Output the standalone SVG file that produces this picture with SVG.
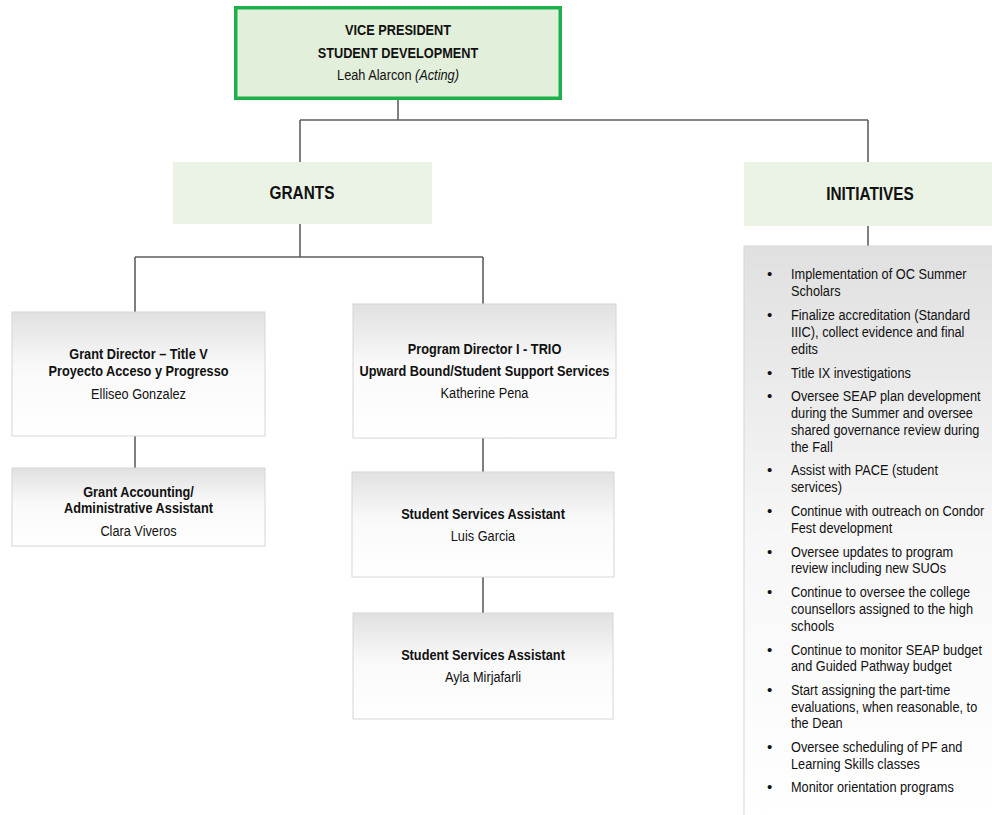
<svg xmlns="http://www.w3.org/2000/svg" width="992" height="815" viewBox="0 0 992 815">
  <defs>
    <linearGradient id="boxFill" x1="0" y1="0" x2="0" y2="1">
      <stop offset="0" stop-color="#e1e1e1"/>
      <stop offset="0.45" stop-color="#f9f9f9"/>
      <stop offset="1" stop-color="#ffffff"/>
    </linearGradient>
    <linearGradient id="listFill" x1="0" y1="0" x2="0" y2="1">
      <stop offset="0" stop-color="#e0e0e0"/>
      <stop offset="0.5" stop-color="#f7f7f7"/>
      <stop offset="1" stop-color="#ffffff"/>
    </linearGradient>
  </defs>
  <style>
    text { font-family: "Liberation Sans", Arial, sans-serif; fill: #111; }
    .c { text-anchor: middle; }
    .t { font-size: 15px; font-weight: bold; }
    .n { font-size: 15px; }
    .h { font-size: 18.5px; font-weight: bold; }
    .li { font-size: 15px; }
    .card { fill: url(#boxFill); stroke: #d6d6d6; stroke-width: 1; }
    .head { fill: #ebf3e5; }
    .link { fill: none; stroke: #5f5f5f; stroke-width: 1.6; }
  </style>

  <rect width="992" height="815" fill="#ffffff"/>

  <!-- connectors -->
  <g id="connectors">
    <path class="link" d="M398 100 V120 M300 120 H868 M300 120 V162 M868 120 V162"/>
    <path class="link" d="M300 224 V257 M135 257 H483 M135 257 V312 M483 257 V304"/>
    <path class="link" d="M135 436 V468"/>
    <path class="link" d="M483 438 V472 M483 577 V613"/>
    <path class="link" d="M868 226 V246"/>
  </g>

  <!-- condensed lettering: each text is narrowed horizontally about its anchor -->
  <g id="vice-president">
    <rect x="235.75" y="7.75" width="324.5" height="90.5" fill="#e2efda" stroke="#20b04b" stroke-width="3.5"/>
    <text class="t c" transform="translate(398 35) scale(.85 1)">VICE PRESIDENT</text>
    <text class="t c" transform="translate(398 58) scale(.85 1)">STUDENT DEVELOPMENT</text>
    <text class="n c" transform="translate(398 80) scale(.85 1)">Leah Alarcon <tspan font-style="italic">(Acting)</tspan></text>
  </g>

  <g id="grants">
    <rect class="head" x="173" y="162" width="259" height="62"/>
    <text class="h c" transform="translate(302 199) scale(.83 1)">GRANTS</text>
  </g>

  <g id="initiatives">
    <rect class="head" x="744" y="162" width="252" height="64"/>
    <text class="h c" transform="translate(870 200) scale(.83 1)">INITIATIVES</text>
  </g>

  <g id="grant-director">
    <rect class="card" x="12" y="312" width="253" height="124"/>
    <text class="t c" transform="translate(138.5 359) scale(.85 1)">Grant Director – Title V</text>
    <text class="t c" transform="translate(138.5 376) scale(.85 1)">Proyecto Acceso y Progresso</text>
    <text class="n c" transform="translate(138.5 399) scale(.85 1)">Elliseo Gonzalez</text>
  </g>

  <g id="grant-accounting">
    <rect class="card" x="12" y="468" width="253" height="78"/>
    <text class="t c" transform="translate(138.5 497) scale(.85 1)">Grant Accounting/</text>
    <text class="t c" transform="translate(138.5 513) scale(.85 1)">Administrative Assistant</text>
    <text class="n c" transform="translate(138.5 536) scale(.85 1)">Clara Viveros</text>
  </g>

  <g id="program-director">
    <rect class="card" x="353" y="304" width="263" height="134"/>
    <text class="t c" transform="translate(484.5 354) scale(.85 1)">Program Director I - TRIO</text>
    <text class="t c" transform="translate(484.5 376) scale(.85 1)">Upward Bound/Student Support Services</text>
    <text class="n c" transform="translate(484.5 398) scale(.85 1)">Katherine Pena</text>
  </g>

  <g id="assistant-garcia">
    <rect class="card" x="352" y="472" width="262" height="105"/>
    <text class="t c" transform="translate(483 519) scale(.85 1)">Student Services Assistant</text>
    <text class="n c" transform="translate(483 541) scale(.85 1)">Luis Garcia</text>
  </g>

  <g id="assistant-mirjafarli">
    <rect class="card" x="353" y="613" width="260" height="106"/>
    <text class="t c" transform="translate(483 660) scale(.85 1)">Student Services Assistant</text>
    <text class="n c" transform="translate(483 682) scale(.85 1)">Ayla Mirjafarli</text>
  </g>

  <!-- initiatives list -->
  <g id="initiatives-list">
    <rect x="744" y="246" width="252" height="580" fill="url(#listFill)" stroke="#d6d6d6" stroke-width="1"/>
    <g class="li">
      <text x="767" y="279">•</text>
      <text x="767" y="320">•</text>
      <text x="767" y="378">•</text>
      <text x="767" y="401">•</text>
      <text x="767" y="475">•</text>
      <text x="767" y="516">•</text>
      <text x="767" y="557">•</text>
      <text x="767" y="597">•</text>
      <text x="767" y="655">•</text>
      <text x="767" y="695">•</text>
      <text x="767" y="752">•</text>
      <text x="767" y="792">•</text>
    </g>
    <g class="li" transform="translate(791 0) scale(.85 1)">
      <text x="0" y="279">Implementation of OC Summer</text>
      <text x="0" y="296">Scholars</text>
      <text x="0" y="320">Finalize accreditation (Standard</text>
      <text x="0" y="337">IIIC), collect evidence and final</text>
      <text x="0" y="354">edits</text>
      <text x="0" y="378">Title IX investigations</text>
      <text x="0" y="401">Oversee SEAP plan development</text>
      <text x="0" y="418">during the Summer and oversee</text>
      <text x="0" y="435">shared governance review during</text>
      <text x="0" y="452">the Fall</text>
      <text x="0" y="475">Assist with PACE (student</text>
      <text x="0" y="492">services)</text>
      <text x="0" y="516">Continue with outreach on Condor</text>
      <text x="0" y="533">Fest development</text>
      <text x="0" y="557">Oversee updates to program</text>
      <text x="0" y="573">review including new SUOs</text>
      <text x="0" y="597">Continue to oversee the college</text>
      <text x="0" y="614">counsellors assigned to the high</text>
      <text x="0" y="631">schools</text>
      <text x="0" y="655">Continue to monitor SEAP budget</text>
      <text x="0" y="671">and Guided Pathway budget</text>
      <text x="0" y="695">Start assigning the part-time</text>
      <text x="0" y="712">evaluations, when reasonable, to</text>
      <text x="0" y="728">the Dean</text>
      <text x="0" y="752">Oversee scheduling of PF and</text>
      <text x="0" y="769">Learning Skills classes</text>
      <text x="0" y="792">Monitor orientation programs</text>
    </g>
  </g>
</svg>
